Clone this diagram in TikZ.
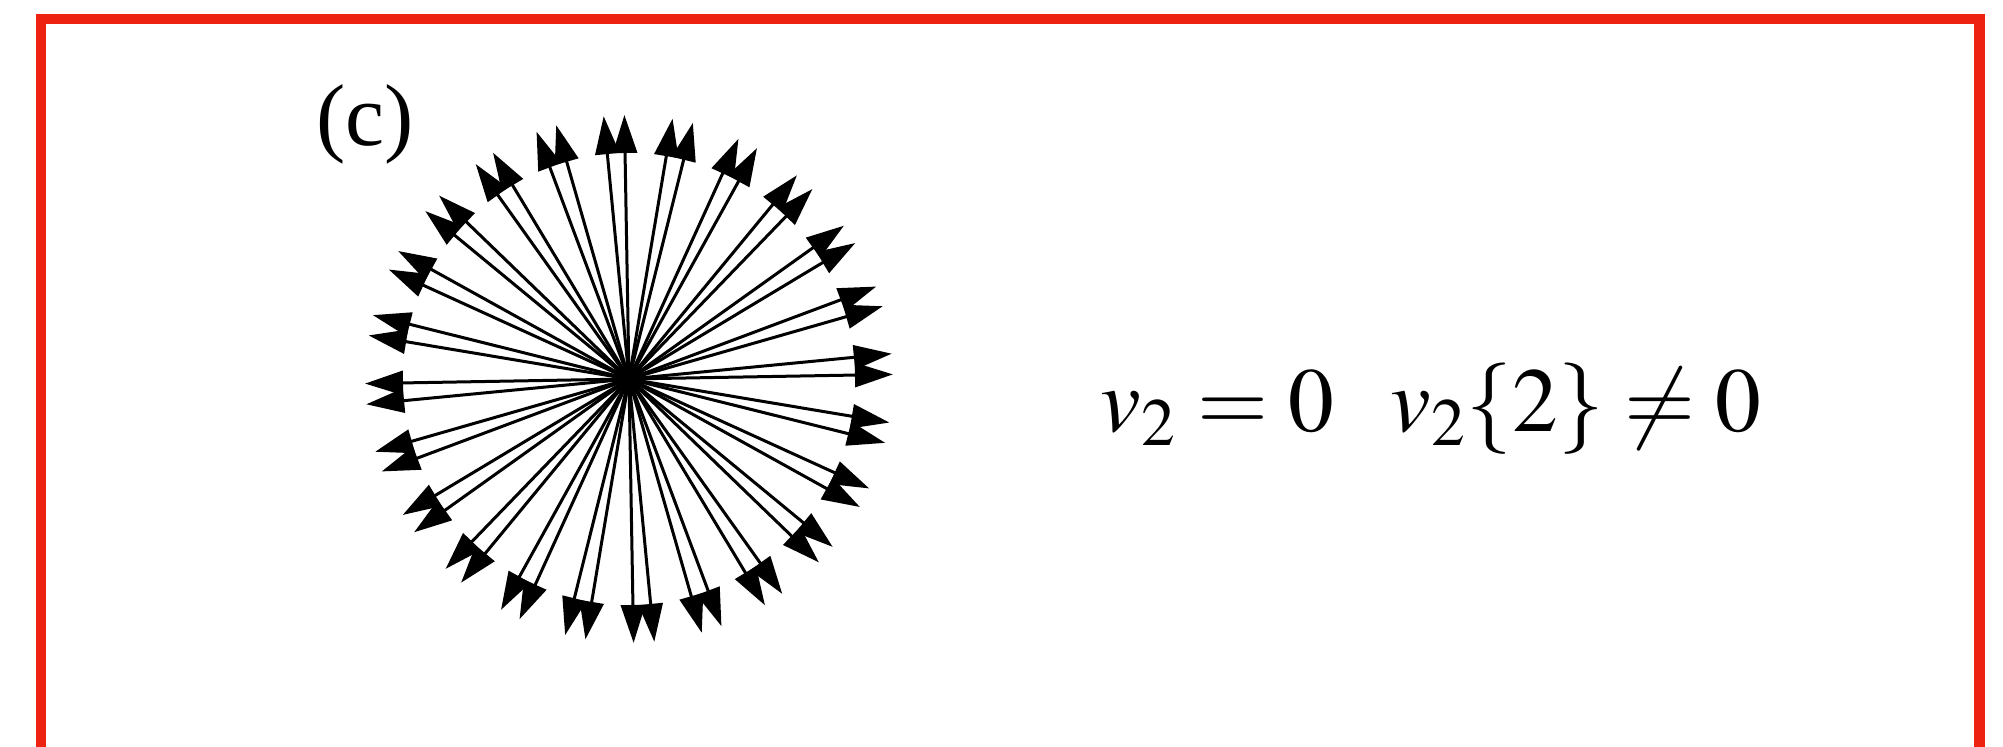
\documentclass[tikz,border=0pt]{standalone}
\usepackage{mathptmx}
\usepackage{fontspec}
\setmainfont{Liberation Serif}
\usetikzlibrary{arrows.meta}
\definecolor{framered}{RGB}{238,34,17}
\begin{document}
\begin{tikzpicture}[x=0.1mm,y=0.1mm,
  ray/.style={line width=0.3mm, -{Triangle[length=3.8mm,width=2.4mm]}},
  border/.style={draw=framered, line width=1.05mm},
  lbl/.style={inner sep=0, anchor=base west}]
\useasboundingbox (0,0) rectangle (2003,747);
\clip (0,0) rectangle (2003,747);
\fill[white] (0,0) rectangle (2003,747);
\draw[border] (41,-30) -- (41,728) -- (1979.5,728) -- (1979.5,-30);
\coordinate (o) at (629,368);
\foreach \k in {0,...,23}{
  \foreach \d/\n in {1/a,5.5/b}{
    \path (o) ++({15*\k+\d}:264) coordinate (t\k\n);
    \draw[ray] (o) -- (t\k\n);
  }}
\node[lbl, font=\fontsize{25}{30}\selectfont] (c) at (316,601) {(c)};
\node[lbl, font=\fontsize{26}{31}\selectfont] (eq) at (1100,315) {$v_2 = 0 \hskip 0.62em v_2\{2\} \neq 0$};
\end{tikzpicture}
\end{document}
